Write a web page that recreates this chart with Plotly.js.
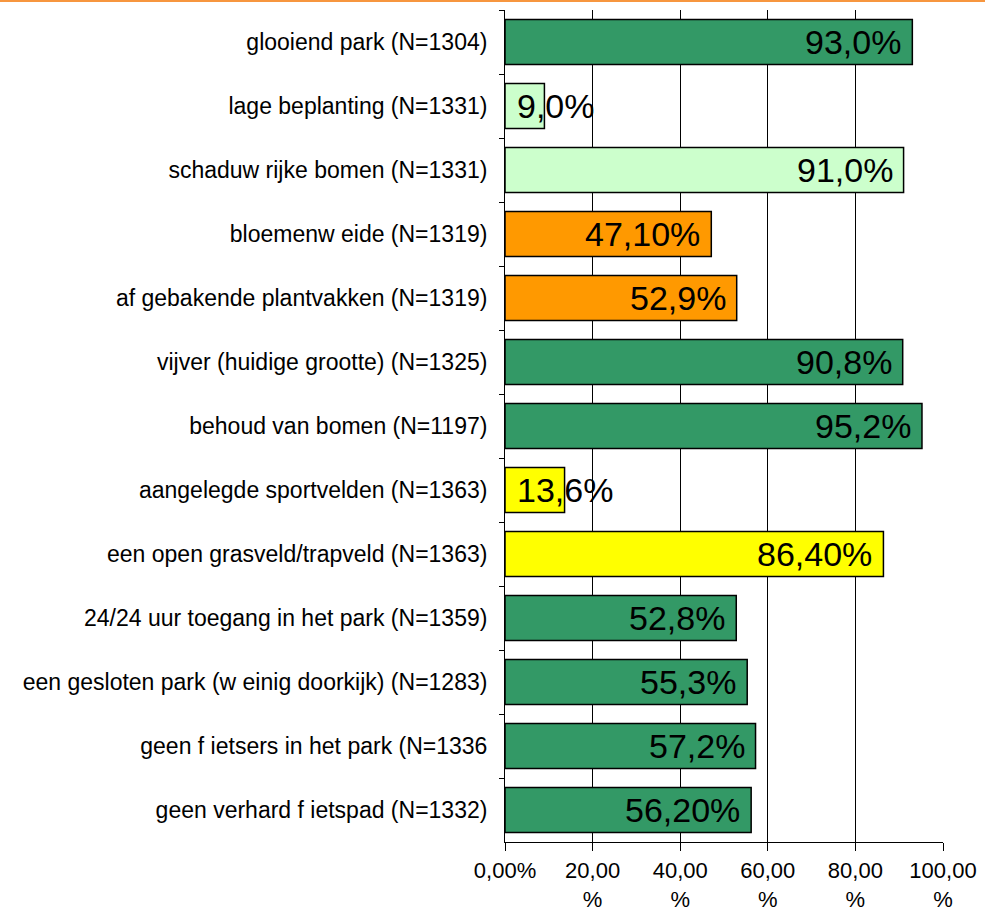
<!DOCTYPE html>
<html lang="nl">
<head>
    <meta charset="UTF-8">
    <title>Wensen park</title>
    <script src="https://cdn.plot.ly/plotly-3.0.1.min.js"></script>
    <style>
        body {
            margin: 0;
            padding: 0;
            background: white;
        }

        #chart {
            width: 985px;
            height: 916px;
            border-top: 2px solid #f7963f;
        }
    </style>
</head>
<body>
    <div id="chart"></div>

    <script>
        // categories, top to bottom
        const categories = [
            'glooiend park (N=1304)',
            'lage beplanting (N=1331)',
            'schaduw rijke bomen (N=1331)',
            'bloemenw eide (N=1319)',
            'af gebakende plantvakken (N=1319)',
            'vijver (huidige grootte) (N=1325)',
            'behoud van bomen (N=1197)',
            'aangelegde sportvelden (N=1363)',
            'een open grasveld/trapveld (N=1363)',
            '24/24 uur toegang in het park (N=1359)',
            'een gesloten park (w einig doorkijk) (N=1283)',
            'geen f ietsers in het park (N=1336',
            'geen verhard f ietspad (N=1332)'
        ];

        const values = [93.0, 9.0, 91.0, 47.1, 52.9, 90.8, 95.2, 13.6, 86.4, 52.8, 55.3, 57.2, 56.2];

        const valueLabels = ['93,0%', '9,0%', '91,0%', '47,10%', '52,9%', '90,8%', '95,2%',
                             '13,6%', '86,40%', '52,8%', '55,3%', '57,2%', '56,20%'];

        const barColors = ['#339966', '#ccffcc', '#ccffcc', '#ff9900', '#ff9900', '#339966', '#339966',
                           '#ffff00', '#ffff00', '#339966', '#339966', '#339966', '#339966'];

        const tickValues = [0, 20, 40, 60, 80, 100];
        const tickLabels = ['0,00%', '20,00<br>%', '40,00<br>%', '60,00<br>%', '80,00<br>%', '100,00<br>%'];

        const trace = {
            type: 'bar',
            orientation: 'h',
            x: values,
            y: categories,
            width: 0.7,
            marker: {
                color: barColors,
                line: { color: '#000000', width: 1.5 }
            },
            hoverinfo: 'none'
        };

        // value labels: inside the bar end, or from the bar start when the bar is too short
        const annotations = values.map((v, i) => {
            const short = v < 25;
            return {
                x: short ? 0 : v,
                y: categories[i],
                xref: 'x',
                yref: 'y',
                text: valueLabels[i],
                showarrow: false,
                xanchor: short ? 'left' : 'right',
                xshift: short ? 10 : -9,
                font: { family: 'Liberation Sans, Arial, sans-serif', size: 34, color: '#000000' }
            };
        });

        const layout = {
            width: 985,
            height: 916,
            margin: { l: 505, r: 42, t: 8, b: 76 },
            paper_bgcolor: 'white',
            plot_bgcolor: 'white',
            showlegend: false,
            bargap: 0.3,
            font: { family: 'Liberation Sans, Arial, sans-serif', color: '#000000' },
            xaxis: {
                range: [0, 100],
                tickvals: tickValues,
                ticktext: tickLabels,
                tickfont: { size: 22 },
                ticks: 'outside',
                ticklen: 8,
                tickcolor: '#000000',
                ticklabelstandoff: 1,
                showline: true,
                linecolor: '#000000',
                linewidth: 1,
                showgrid: true,
                gridcolor: '#000000',
                gridwidth: 1,
                zeroline: false,
                fixedrange: true
            },
            yaxis: {
                type: 'category',
                autorange: 'reversed',
                tickfont: { size: 23 },
                ticks: 'outside',
                tickson: 'boundaries',
                ticklen: 5,
                tickcolor: '#000000',
                ticklabelstandoff: 12,
                showline: true,
                linecolor: '#000000',
                linewidth: 1,
                showgrid: false,
                zeroline: false,
                fixedrange: true
            },
            annotations: annotations
        };

        Plotly.newPlot('chart', [trace], layout, { displayModeBar: false, staticPlot: true });
    </script>
</body>
</html>
